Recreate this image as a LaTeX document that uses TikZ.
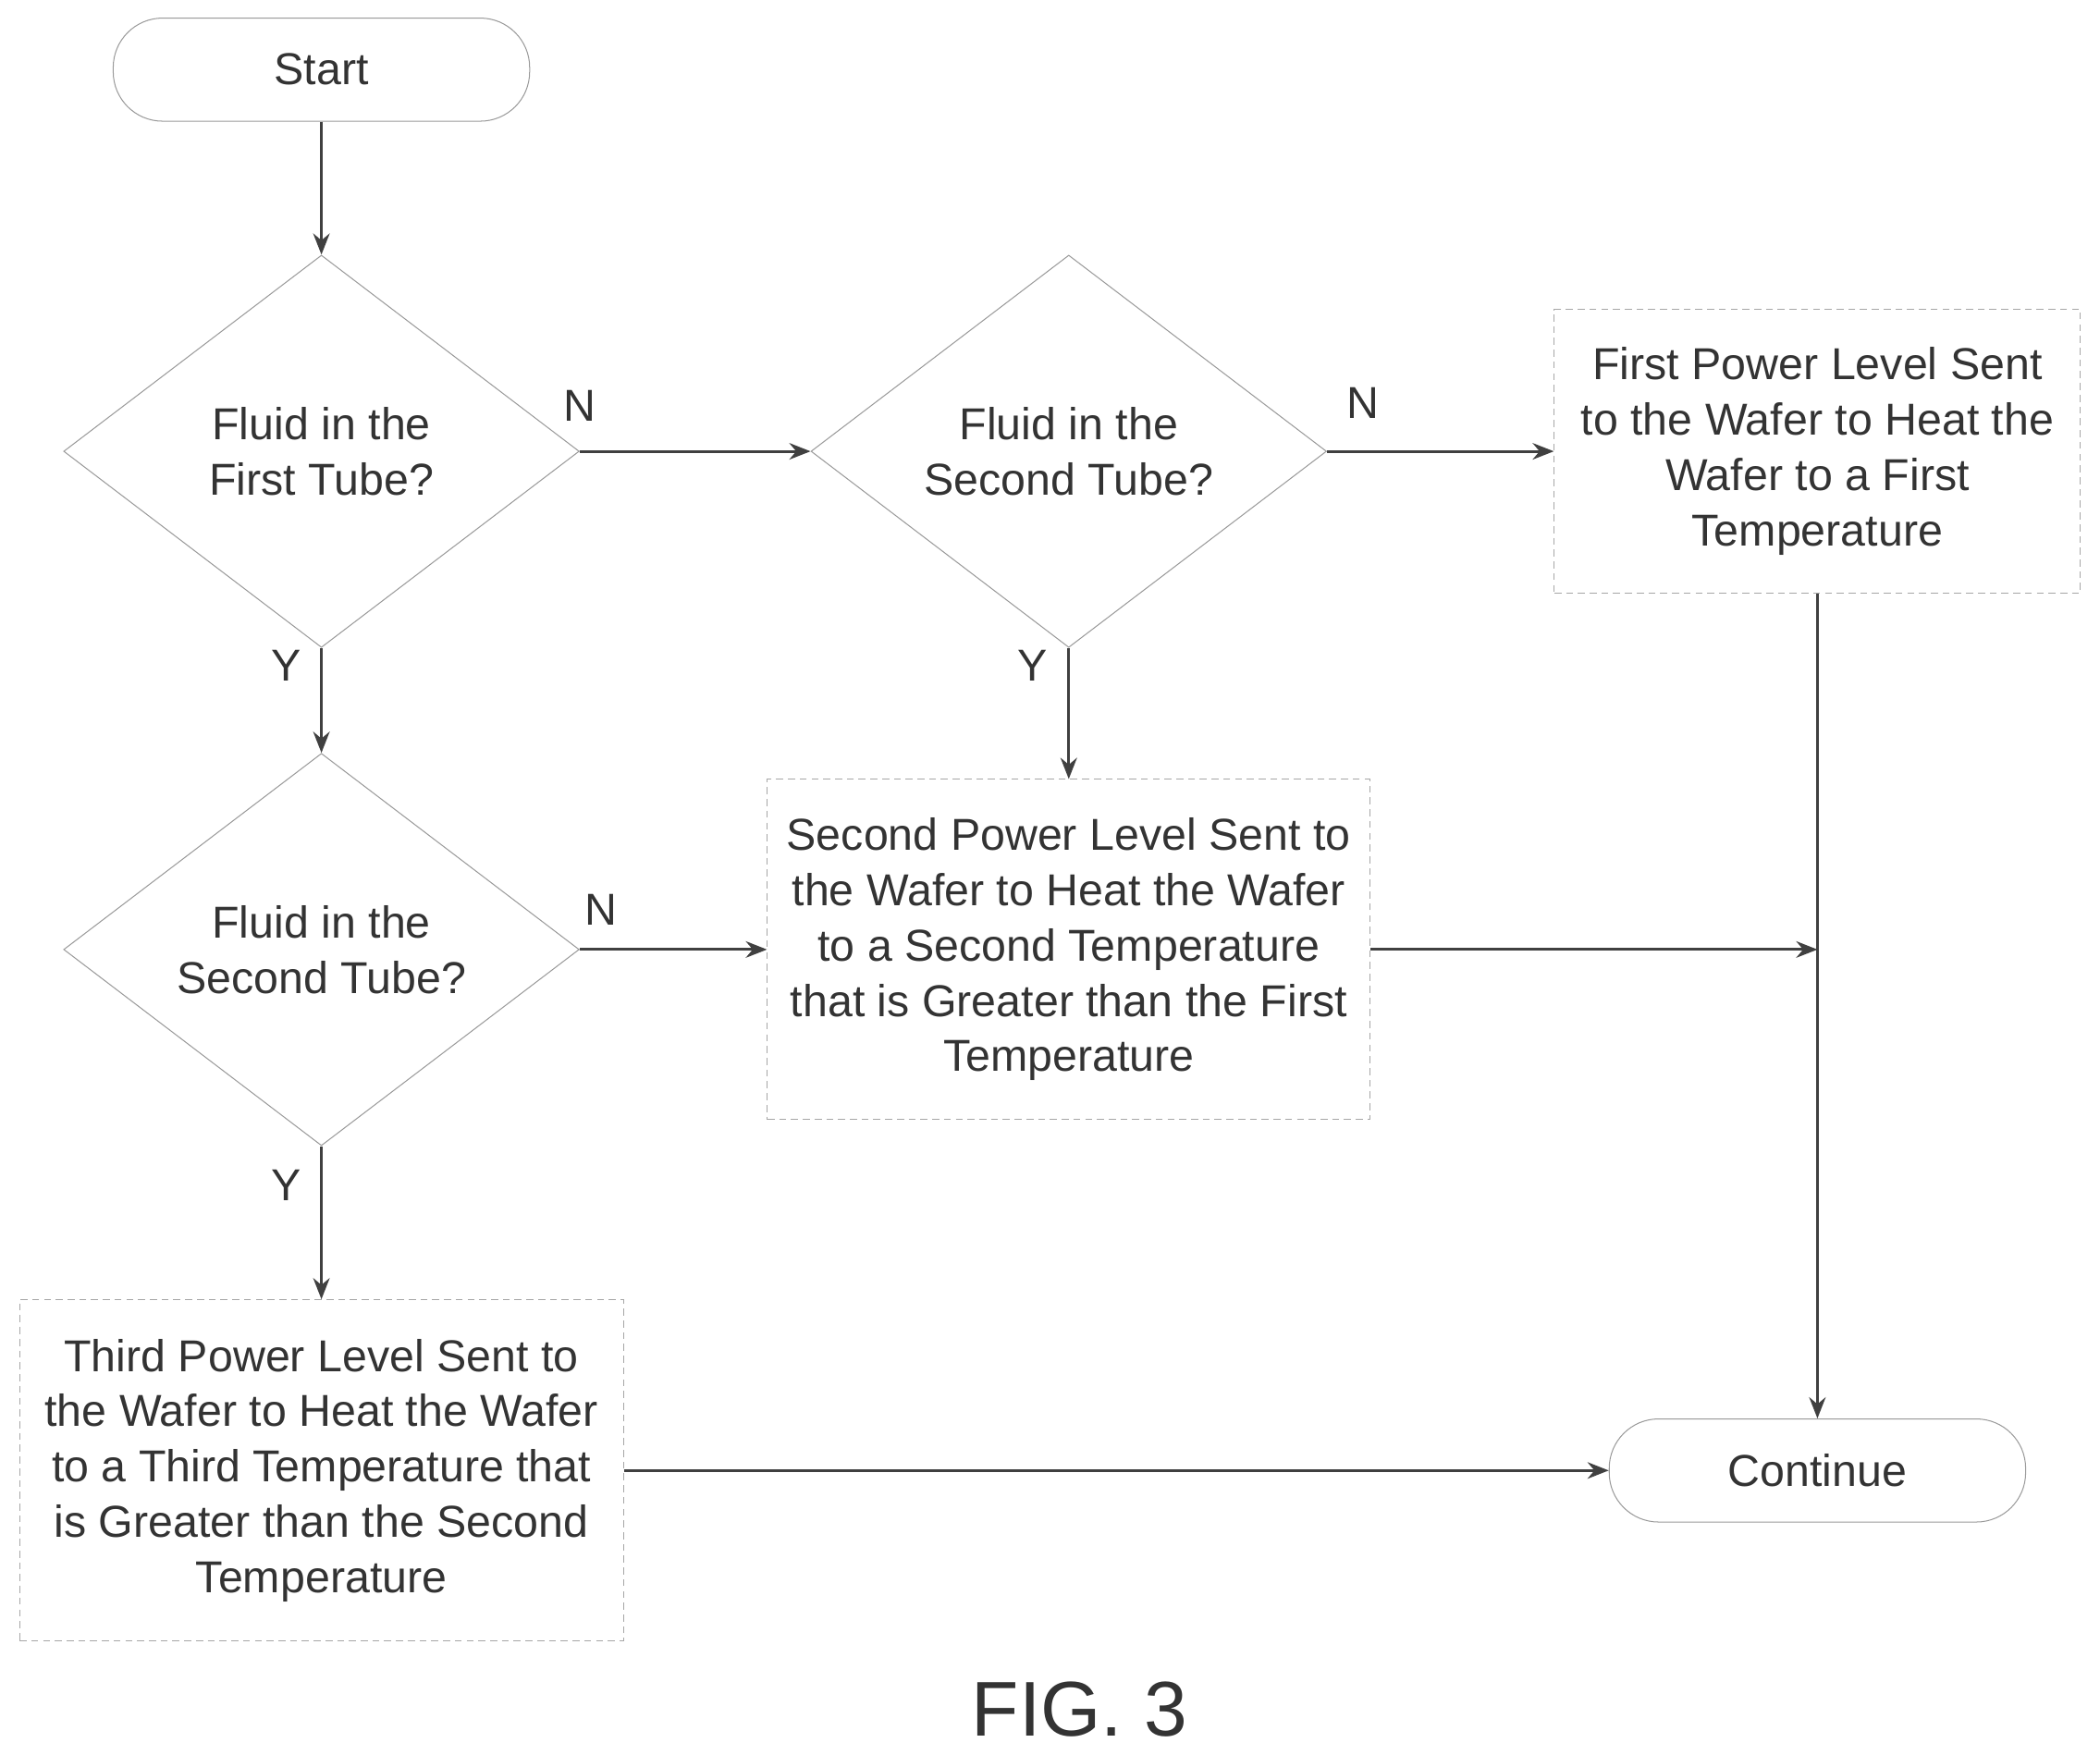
\documentclass[tikz,border=0pt]{standalone}
\usepackage{fontspec}
\setmainfont{Liberation Sans}
\usetikzlibrary{arrows.meta,shapes.geometric}
\tikzset{
    action/.style={draw=gray!70, densely dashed, thin, align=center, inner sep=2pt}, % process boxes
    term/.style={draw=gray!80, rounded corners=21pt, minimum width=6.22cm, minimum height=1.54cm}, % start / end
    test/.style={draw=gray!80, diamond, inner sep=1pt, align=center, minimum width=7.7cm, minimum height=5.86cm}, % decisions
    flow/.style={draw=black!75, line width=1.2pt, -{Stealth[length=9pt,width=7pt]}}
}
\begin{document}
\begin{tikzpicture}[x=0.02cm, y=-0.02cm, font=\fontsize{19}{23.5}\selectfont, text=black!80]
    \useasboundingbox (0,0) rectangle (1568,1310);

    \node[term] (start) at (240,52) {Start};
    \node[test] (tubeA) at (240,337) {Fluid in the\\First Tube?};
    \node[test] (tubeB) at (798,337) {Fluid in the\\Second Tube?};
    \node[test] (tubeC) at (240,709) {Fluid in the\\Second Tube?};
    \node[action, minimum width=7.86cm, minimum height=4.24cm] (powerA) at (1357,337)
        {First Power Level Sent\\to the Wafer to Heat the\\Wafer to a First\\Temperature};
    \node[action, minimum width=9cm, minimum height=5.08cm] (powerB) at (798,709)
        {Second Power Level Sent to\\the Wafer to Heat the Wafer\\to a Second Temperature\\that is Greater than the First\\Temperature};
    \node[action, minimum width=9.02cm, minimum height=5.1cm] (powerC) at (240,1098)
        {Third Power Level Sent to\\the Wafer to Heat the Wafer\\to a Third Temperature that\\is Greater than the Second\\Temperature};
    \node[term] (cont) at (1357,1098) {Continue};
    \coordinate (join) at (1357,709);

    \draw[flow] (start) -- (tubeA);
    \draw[flow] (tubeA) -- (tubeB);
    \draw[flow] (tubeB) -- (powerA);
    \draw[flow] (tubeA) -- (tubeC);
    \draw[flow] (tubeB) -- (powerB);
    \draw[flow] (tubeC) -- (powerB);
    \draw[flow] (tubeC) -- (powerC);
    \draw[flow] (powerB) -- (join);
    \draw[flow] (powerA) -- (cont);
    \draw[flow] (powerC) -- (cont);

    \node (nA) at (433,303) {N};
    \node (nB) at (1018,301) {N};
    \node (nC) at (449,679) {N};
    \node (yA) at (214,497) {Y};
    \node (yB) at (771,497) {Y};
    \node (yC) at (214,885) {Y};

    \node[font=\fontsize{33}{38}\selectfont] (fig) at (806,1276) {FIG. 3};
\end{tikzpicture}
\end{document}
